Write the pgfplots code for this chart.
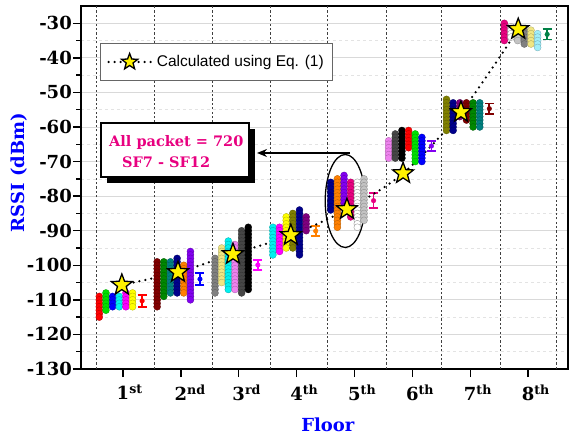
\documentclass[border=0pt]{standalone}
\usepackage{fontspec}
\setmainfont{DejaVu Serif}
\newfontfamily\arialfont{Liberation Sans}
\usepackage{pgfplots}
\pgfplotsset{compat=1.18}
\usetikzlibrary{arrows.meta}

\definecolor{myred}{RGB}{255,0,0}
\definecolor{mylime}{RGB}{0,225,0}
\definecolor{myblue}{RGB}{0,0,255}
\definecolor{mycyan}{RGB}{0,240,240}
\definecolor{mymagenta}{RGB}{255,0,255}
\definecolor{myyellow}{RGB}{255,255,0}
\definecolor{mydarkred}{RGB}{128,0,0}
\definecolor{mydgreen}{RGB}{0,135,0}
\definecolor{myteal}{RGB}{0,128,128}
\definecolor{mynavy}{RGB}{0,0,140}
\definecolor{myorange}{RGB}{255,128,0}
\definecolor{myvblue}{RGB}{130,0,240}
\definecolor{mygray}{RGB}{128,128,128}
\definecolor{mykhaki}{RGB}{240,230,130}
\definecolor{myviolet}{RGB}{238,130,238}
\definecolor{mydgray}{RGB}{70,70,70}
\definecolor{myolive}{RGB}{128,128,0}
\definecolor{mypurple}{RGB}{128,0,128}
\definecolor{mypink}{RGB}{232,0,128}
\definecolor{mylgray}{RGB}{195,195,195}
\definecolor{mylcyan}{RGB}{160,238,250}
\definecolor{myseagreen}{RGB}{0,128,70}

\pgfdeclareplotmark{fstar}{%
 \pgfpathmoveto{\pgfpointpolar{90}{\pgfplotmarksize}}%
 \pgfpathlineto{\pgfpointpolar{126}{0.42*\pgfplotmarksize}}%
 \pgfpathlineto{\pgfpointpolar{162}{\pgfplotmarksize}}%
 \pgfpathlineto{\pgfpointpolar{198}{0.42*\pgfplotmarksize}}%
 \pgfpathlineto{\pgfpointpolar{234}{\pgfplotmarksize}}%
 \pgfpathlineto{\pgfpointpolar{270}{0.42*\pgfplotmarksize}}%
 \pgfpathlineto{\pgfpointpolar{306}{\pgfplotmarksize}}%
 \pgfpathlineto{\pgfpointpolar{342}{0.42*\pgfplotmarksize}}%
 \pgfpathlineto{\pgfpointpolar{18}{\pgfplotmarksize}}%
 \pgfpathlineto{\pgfpointpolar{54}{0.42*\pgfplotmarksize}}%
 \pgfpathclose
 \pgfusepathqfillstroke}

\pgfplotsset{
 col/.style={only marks, mark=*, mark size=3.5pt, mark options={fill=#1, draw=#1!70!black, line width=0.3pt}, forget plot},
 wcol/.style={only marks, mark=*, mark size=3.5pt, mark options={fill=white, draw=gray!80, line width=0.4pt}, forget plot},
 eb/.style={only marks, mark=*, mark size=2.3pt, color=#1, forget plot, error bars/.cd, y dir=both, y explicit, error bar style={line width=1.8pt, #1}, error mark options={rotate=90, mark size=4.5pt, line width=1.8pt, #1}},
 calcleg/.style={legend image code/.code={\draw[mark repeat=2, mark phase=2, ##1, mark size=8.5pt] plot coordinates {(0pt,0pt) (21pt,0pt) (42pt,0pt)};}},
}

\begin{document}
\begin{tikzpicture}
\useasboundingbox (-81pt,-67pt) rectangle (489pt,369pt);
\begin{axis}[at={(0pt,0pt)}, anchor=south west, scale only axis, width=487pt, height=363pt,
 xmin=0.274, xmax=8.69, ymin=-130, ymax=-25,
 xtick={1,2,3,4,5,6,7,8},
 xticklabels={1\rlap{\textsuperscript{st}},2\rlap{\textsuperscript{nd}},3\rlap{\textsuperscript{rd}},4\rlap{\textsuperscript{th}},5\rlap{\textsuperscript{th}},6\rlap{\textsuperscript{th}},7\rlap{\textsuperscript{th}},8\rlap{\textsuperscript{th}}},
 ytick={-130,-120,-110,-100,-90,-80,-70,-60,-50,-40,-30},
 yticklabels={-130,-120,-110,-100,-90,-80,-70,-60,-50,-40,-30},
 minor y tick num=1,
 tick pos=left, tick align=outside, major tick length=8pt, minor tick length=4.5pt,
 every tick/.style={black, line width=1.3pt},
 axis line style={line width=1.8pt},
 ymajorgrids, yminorgrids,
 major grid style={gray!30, line width=0.8pt},
 minor grid style={gray!22, dashed, line width=0.6pt},
 extra x ticks={0.533,1.536,2.538,3.55,4.54,5.545,6.51,7.52,8.49},
 extra x tick labels={},
 extra x tick style={grid=major, major grid style={black!75, line width=0.8pt, dash pattern=on 2.2pt off 2.2pt}, major tick length=0pt},
 ticklabel style={font=\bfseries\fontsize{18}{20}\selectfont},
 yticklabel style={inner sep=1pt},
 xticklabel style={yshift=-4pt},
 xlabel={Floor}, ylabel={RSSI (dBm)},
 xlabel style={font=\bfseries\fontsize{18}{20}\selectfont, text=blue, at={(axis description cs:0.507,0)}, anchor=base, yshift=-62pt},
 ylabel style={font=\bfseries\fontsize{18}{20}\selectfont, text=blue, at={(axis description cs:-0.127,0.541)}, anchor=center},
 legend style={at={(axis description cs:0.039,0.898)}, anchor=north west, draw=gray!80!black, line width=0.8pt, font=\arialfont\fontsize{15.5}{18}\selectfont, inner xsep=7pt, inner ysep=10pt, fill=white, /tikz/every odd column/.append style={column sep=3pt}},
 legend cell align=left,
]
% Floor 1
\addplot[col=myred] coordinates {(0.59,-109)(0.59,-110)(0.59,-111)(0.59,-112)(0.59,-113)(0.59,-114)(0.59,-115)};
\addplot[col=mylime] coordinates {(0.705,-108)(0.705,-109)(0.705,-110)(0.705,-111)(0.705,-112)(0.705,-113)};
\addplot[col=myblue] coordinates {(0.82,-109)(0.82,-110)(0.82,-111)(0.82,-112)};
\addplot[col=mycyan] coordinates {(0.935,-109)(0.935,-110)(0.935,-111)(0.935,-112)};
\addplot[col=mymagenta] coordinates {(1.05,-108)(1.05,-109)(1.05,-110)(1.05,-111)(1.05,-112)};
\addplot[col=myyellow] coordinates {(1.165,-108)(1.165,-109)(1.165,-110)(1.165,-111)(1.165,-112)};
% Floor 2
\addplot[col=mydarkred] coordinates {(1.59,-99)(1.59,-100)(1.59,-101)(1.59,-102)(1.59,-103)(1.59,-104)(1.59,-105)(1.59,-106)(1.59,-107)(1.59,-108)(1.59,-109)(1.59,-110)(1.59,-111)(1.59,-112)};
\addplot[col=mydgreen] coordinates {(1.705,-99)(1.705,-100)(1.705,-101)(1.705,-102)(1.705,-103)(1.705,-104)(1.705,-105)(1.705,-106)(1.705,-107)(1.705,-108)(1.705,-109)};
\addplot[col=myteal] coordinates {(1.82,-99)(1.82,-100)(1.82,-101)(1.82,-102)(1.82,-103)(1.82,-104)(1.82,-105)(1.82,-106)(1.82,-107)(1.82,-108)};
\addplot[col=mynavy] coordinates {(1.935,-98)(1.935,-99)(1.935,-100)(1.935,-101)(1.935,-102)(1.935,-103)(1.935,-104)(1.935,-105)(1.935,-106)(1.935,-107)(1.935,-108)};
\addplot[col=myorange] coordinates {(2.05,-100)(2.05,-101)(2.05,-102)(2.05,-103)(2.05,-104)(2.05,-105)(2.05,-106)(2.05,-107)(2.05,-108)};
\addplot[col=myvblue] coordinates {(2.165,-96)(2.165,-97)(2.165,-98)(2.165,-99)(2.165,-100)(2.165,-101)(2.165,-102)(2.165,-103)(2.165,-104)(2.165,-105)(2.165,-106)(2.165,-107)(2.165,-108)(2.165,-109)(2.165,-110)};
% Floor 3
\addplot[col=mygray] coordinates {(2.59,-98)(2.59,-99)(2.59,-100)(2.59,-101)(2.59,-102)(2.59,-103)(2.59,-104)(2.59,-105)(2.59,-106)(2.59,-107)(2.59,-108)};
\addplot[col=mykhaki] coordinates {(2.705,-95)(2.705,-96)(2.705,-97)(2.705,-98)(2.705,-99)(2.705,-100)(2.705,-101)(2.705,-102)(2.705,-103)(2.705,-104)(2.705,-105)};
\addplot[col=mycyan] coordinates {(2.82,-93)(2.82,-94)(2.82,-95)(2.82,-96)(2.82,-97)(2.82,-98)(2.82,-99)(2.82,-100)(2.82,-101)(2.82,-102)(2.82,-103)(2.82,-104)(2.82,-105)(2.82,-106)(2.82,-107)};
\addplot[col=myviolet] coordinates {(2.935,-94)(2.935,-95)(2.935,-96)(2.935,-97)(2.935,-98)(2.935,-99)(2.935,-100)(2.935,-101)(2.935,-102)(2.935,-103)(2.935,-104)(2.935,-105)(2.935,-106)(2.935,-107)};
\addplot[col=mydgray] coordinates {(3.05,-90)(3.05,-91)(3.05,-92)(3.05,-93)(3.05,-94)(3.05,-95)(3.05,-96)(3.05,-97)(3.05,-98)(3.05,-99)(3.05,-100)(3.05,-101)(3.05,-102)(3.05,-103)(3.05,-104)(3.05,-105)(3.05,-106)(3.05,-107)(3.05,-108)};
\addplot[col=black] coordinates {(3.165,-89)(3.165,-90)(3.165,-91)(3.165,-92)(3.165,-93)(3.165,-94)(3.165,-95)(3.165,-96)(3.165,-97)(3.165,-98)(3.165,-99)(3.165,-100)(3.165,-101)(3.165,-102)(3.165,-103)(3.165,-104)(3.165,-105)(3.165,-106)(3.165,-107)};
% Floor 4
\addplot[col=mycyan] coordinates {(3.59,-89)(3.59,-90)(3.59,-91)(3.59,-92)(3.59,-93)(3.59,-94)(3.59,-95)(3.59,-96)(3.59,-97)};
\addplot[col=mymagenta] coordinates {(3.705,-89)(3.705,-90)(3.705,-91)(3.705,-92)(3.705,-93)(3.705,-94)(3.705,-95)(3.705,-96)};
\addplot[col=myyellow] coordinates {(3.82,-86)(3.82,-87)(3.82,-88)(3.82,-89)(3.82,-90)(3.82,-91)(3.82,-92)(3.82,-93)(3.82,-94)(3.82,-95)};
\addplot[col=myolive] coordinates {(3.935,-85)(3.935,-86)(3.935,-87)(3.935,-88)(3.935,-89)(3.935,-90)(3.935,-91)(3.935,-92)(3.935,-93)(3.935,-94)(3.935,-95)};
\addplot[col=mynavy] coordinates {(4.05,-84)(4.05,-85)(4.05,-86)(4.05,-87)(4.05,-88)(4.05,-89)(4.05,-90)(4.05,-91)(4.05,-92)(4.05,-93)(4.05,-94)(4.05,-95)(4.05,-96)(4.05,-97)};
\addplot[col=mypurple] coordinates {(4.165,-86)(4.165,-87)(4.165,-88)(4.165,-89)(4.165,-90)};
% Floor 5
\addplot[col=mynavy] coordinates {(4.59,-76)(4.59,-77)(4.59,-78)(4.59,-79)(4.59,-80)(4.59,-81)(4.59,-82)(4.59,-83)(4.59,-84)};
\addplot[col=myorange] coordinates {(4.705,-75)(4.705,-76)(4.705,-77)(4.705,-78)(4.705,-79)(4.705,-80)(4.705,-81)(4.705,-82)(4.705,-83)(4.705,-84)(4.705,-85)(4.705,-86)(4.705,-87)(4.705,-88)(4.705,-89)};
\addplot[col=myvblue] coordinates {(4.82,-74)(4.82,-75)(4.82,-76)(4.82,-77)(4.82,-78)(4.82,-79)(4.82,-80)(4.82,-81)(4.82,-82)(4.82,-83)};
\addplot[col=mypink] coordinates {(4.935,-76)(4.935,-77)(4.935,-78)(4.935,-79)(4.935,-80)(4.935,-81)(4.935,-82)(4.935,-83)(4.935,-84)(4.935,-85)(4.935,-86)};
\addplot[wcol] coordinates {(5.05,-76)(5.05,-77)(5.05,-78)(5.05,-79)(5.05,-80)(5.05,-81)(5.05,-82)(5.05,-83)(5.05,-84)(5.05,-85)(5.05,-86)(5.05,-87)(5.05,-88)(5.05,-89)};
\addplot[col=mylgray] coordinates {(5.165,-75)(5.165,-76)(5.165,-77)(5.165,-78)(5.165,-79)(5.165,-80)(5.165,-81)(5.165,-82)(5.165,-83)(5.165,-84)(5.165,-85)(5.165,-86)(5.165,-87)};
% Floor 6
\addplot[col=myviolet] coordinates {(5.59,-64)(5.59,-65)(5.59,-66)(5.59,-67)(5.59,-68)(5.59,-69)};
\addplot[col=mydgray] coordinates {(5.705,-62)(5.705,-63)(5.705,-64)(5.705,-65)(5.705,-66)(5.705,-67)(5.705,-68)(5.705,-69)};
\addplot[col=black] coordinates {(5.82,-61)(5.82,-62)(5.82,-63)(5.82,-64)(5.82,-65)(5.82,-66)(5.82,-67)(5.82,-68)(5.82,-69)};
\addplot[col=myred] coordinates {(5.935,-61)(5.935,-62)(5.935,-63)(5.935,-64)(5.935,-65)(5.935,-66)};
\addplot[col=mylime] coordinates {(6.05,-62)(6.05,-63)(6.05,-64)(6.05,-65)(6.05,-66)(6.05,-67)(6.05,-68)(6.05,-69)(6.05,-70)};
\addplot[col=myblue] coordinates {(6.165,-63)(6.165,-64)(6.165,-65)(6.165,-66)(6.165,-67)(6.165,-68)(6.165,-69)(6.165,-70)};
% Floor 7
\addplot[col=myolive] coordinates {(6.59,-52)(6.59,-53)(6.59,-54)(6.59,-55)(6.59,-56)(6.59,-57)(6.59,-58)(6.59,-59)(6.59,-60)(6.59,-61)};
\addplot[col=mynavy] coordinates {(6.705,-53)(6.705,-54)(6.705,-55)(6.705,-56)(6.705,-57)(6.705,-58)(6.705,-59)(6.705,-60)(6.705,-61)};
\addplot[col=mypurple] coordinates {(6.82,-53)(6.82,-54)(6.82,-55)(6.82,-56)(6.82,-57)};
\addplot[col=mydarkred] coordinates {(6.935,-53)(6.935,-54)(6.935,-55)(6.935,-56)(6.935,-57)(6.935,-58)};
\addplot[col=mydgreen] coordinates {(7.05,-53)(7.05,-54)(7.05,-55)(7.05,-56)(7.05,-57)(7.05,-58)(7.05,-59)(7.05,-60)};
\addplot[col=myteal] coordinates {(7.165,-53)(7.165,-54)(7.165,-55)(7.165,-56)(7.165,-57)(7.165,-58)(7.165,-59)(7.165,-60)};
% Floor 8
\addplot[col=mypink] coordinates {(7.59,-30)(7.59,-31)(7.59,-32)(7.59,-33)(7.59,-34)(7.59,-35)};
\addplot[wcol] coordinates {(7.705,-31)(7.705,-32)(7.705,-33)(7.705,-34)};
\addplot[col=mylgray] coordinates {(7.82,-31)(7.82,-32)(7.82,-33)(7.82,-34)(7.82,-35)};
\addplot[col=mygray] coordinates {(7.935,-32)(7.935,-33)(7.935,-34)(7.935,-35)(7.935,-36)};
\addplot[col=mykhaki] coordinates {(8.05,-32)(8.05,-33)(8.05,-34)(8.05,-35)(8.05,-36)};
\addplot[col=mylcyan] coordinates {(8.165,-33)(8.165,-34)(8.165,-35)(8.165,-36)(8.165,-37)};
% error bars
\addplot[eb=myred] coordinates {(1.33,-110.3) +- (0,1.7)};
\addplot[eb=myblue] coordinates {(2.33,-104) +- (0,1.7)};
\addplot[eb=mymagenta] coordinates {(3.33,-99.9) +- (0,1.5)};
\addplot[eb=myorange] coordinates {(4.33,-90.1) +- (0,1.5)};
\addplot[eb=mypink] coordinates {(5.33,-81.3) +- (0,2.2)};
\addplot[eb=myvblue] coordinates {(6.33,-65.5) +- (0,1.5)};
\addplot[eb=mydarkred] coordinates {(7.33,-54.7) +- (0,1.5)};
\addplot[eb=myseagreen] coordinates {(8.33,-33.2) +- (0,1.5)};
% calculated
\addplot[smooth, black, line width=2.5pt, dash pattern=on 0pt off 6pt, line cap=round,
  mark=fstar, mark size=11pt, mark options={solid, fill=yellow, draw=black, line width=1.3pt, line join=miter},
  calcleg]
  coordinates {(0.98,-105.7)(1.95,-102)(2.90,-96.8)(3.90,-91.3)(4.87,-83.8)(5.84,-73.4)(6.84,-55.7)(7.83,-31.7)};
\addlegendentry{Calculated using Eq. (1)}
\draw[line width=1.3pt] (axis cs:4.84,-81.4) ellipse [x radius=20pt, y radius=46.5pt];
\end{axis}
% annotation box
\fill[black] (26pt,240pt) rectangle (174pt,186pt);
\draw[fill=white, line width=1.2pt] (20pt,246pt) rectangle (168pt,192pt);
\node[anchor=base west, inner sep=0pt, text=mypink, font=\bfseries\fontsize{14.5}{16}\selectfont] at (28pt,222pt) {All packet = 720};
\node[anchor=base west, inner sep=0pt, text=mypink, font=\bfseries\fontsize{14.5}{16}\selectfont] at (41pt,201pt) {SF7 - SF12};
\draw[line width=1.6pt, -{Stealth[length=10pt, width=8pt]}] (269pt,216pt) -- (176pt,216pt);
\end{tikzpicture}
\end{document}
